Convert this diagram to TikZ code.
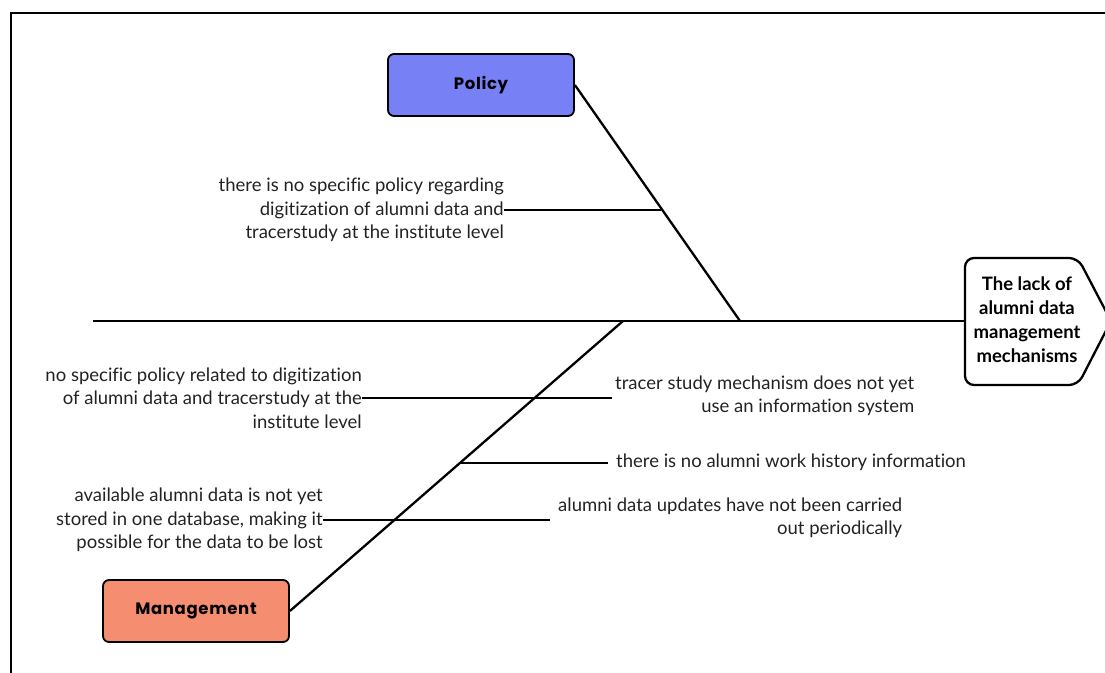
\documentclass[tikz,border=0pt]{standalone}
\usepackage{fontspec}
\setmainfont[Ligatures=NoCommon]{Lato}
\newfontfamily\labelfont[LetterSpace=4]{Poppins}
\definecolor{policyblue}{RGB}{120,128,245}
\definecolor{mgmtsalmon}{RGB}{245,142,112}
\definecolor{causetext}{RGB}{34,34,34}
\begin{document}
\begin{tikzpicture}[x=1pt,y=-1pt,
  bone/.style={line width=2.3pt, black},
  twig/.style={line width=1.9pt, black},
  catbox/.style={draw=black, line width=1.8pt, rounded corners=6pt,
    minimum width=186pt, minimum height=62pt, inner sep=0pt,
    font=\labelfont\bfseries\fontsize{16.5}{19}\selectfont},
  cause/.style={inner sep=0pt, text=causetext,
    font=\fontsize{18.5}{23.5}\selectfont},
  headtext/.style={inner sep=0pt, align=center,
    font=\bfseries\fontsize{18.5}{24}\selectfont}]
\useasboundingbox (0,0) rectangle (1105,672);
\begin{scope}
\clip (0,0) rectangle (1105,672);

% outer frame
\draw[line width=2.5pt] (11,680) -- (11,13) -- (1110,13);

% head of the fish
\draw[bone, rounded corners=9pt] (965,258) -- (1078,258) -- (1111,321)
  -- (1078,385) -- (965,385) -- cycle;
\node[headtext] (head) at (1027,320)
  {The lack of\\alumni data\\management\\mechanisms};

% spine
\coordinate (tail) at (93,321);
\coordinate (headin) at (965,321);
\draw[bone] (tail) -- (headin);

% category boxes and main bones
\node[catbox, fill=policyblue] (policy) at (481,85) {Policy};
\node[catbox, fill=mgmtsalmon] (mgmt) at (196,611) {Management};
\coordinate (pj) at (740,321);
\coordinate (mj) at (623,321);
\draw[bone] (policy.east) -- (pj);
\draw[bone] (mgmt.east) -- (mj);

% policy cause
\node[cause, anchor=east, align=right] (p1) at (504,210)
  {there is no specific policy regarding\\digitization of alumni data and\\tracerstudy at the institute level};
\coordinate (p1b) at (661,210);
\draw[twig] (p1.east) -- (p1b);

% management causes
\node[cause, anchor=east, align=right] (m1) at (362,398)
  {no specific policy related to digitization\\of alumni data and tracerstudy at the\\institute level};
\node[cause, anchor=west, align=right] (m2) at (615,396)
  {tracer study mechanism does not yet\\use an information system};
\draw[twig] (m1.east) -- ([xshift=-3pt]m1.east -| m2.west);

\node[cause, anchor=west] (m3) at (616,462)
  {there is no alumni work history information};
\coordinate (m3b) at (459,463);
\draw[twig] (m3b) -- ([xshift=-8pt]m3.west |- m3b);

\node[cause, anchor=east, align=right] (m4) at (323,520)
  {available alumni data is not yet\\stored in one database, making it\\possible for the data to be lost};
\node[cause, anchor=west, align=right] (m5) at (558,518)
  {alumni data updates have not been carried\\out periodically};
\draw[twig] (m4.east) -- ([xshift=-8pt]m4.east -| m5.west);
\end{scope}
\end{tikzpicture}
\end{document}
